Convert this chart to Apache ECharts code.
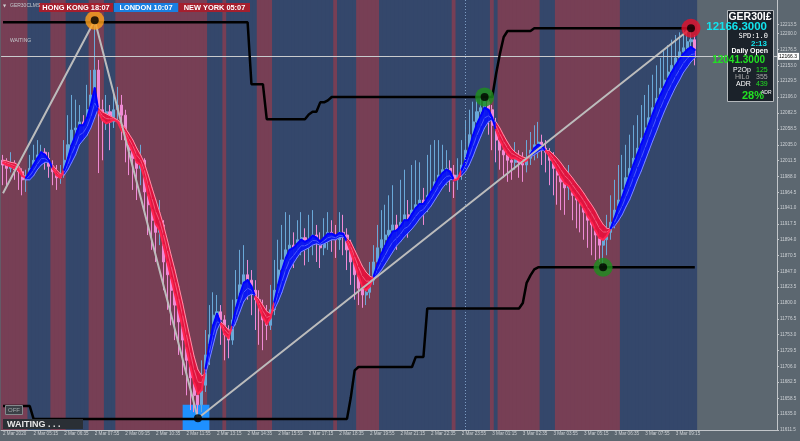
<!DOCTYPE html>
<html>
<head>
<meta charset="utf-8">
<title>GER30 M5</title>
<script src="https://cdn.jsdelivr.net/npm/echarts@6/dist/echarts.min.js"></script>
<style>
  html, body { margin: 0; padding: 0; background: #5c6770; }
  #chart { width: 800px; height: 441px; }
</style>
</head>
<body>
<div id="chart"></div>
<script>
// bars are 10 minutes from 2 Mar 03:55, last categories are the empty chart shift
var barCount = 203;
var tickLabels = ['2 Mar 2020', '2 Mar 05:15', '2 Mar 06:35', '2 Mar 07:55', '2 Mar 09:15', '2 Mar 10:35',
  '2 Mar 11:55', '2 Mar 13:15', '2 Mar 14:35', '2 Mar 15:55', '2 Mar 17:15', '2 Mar 18:35', '2 Mar 19:55',
  '2 Mar 21:15', '2 Mar 22:35', '2 Mar 23:55', '3 Mar 01:15', '3 Mar 02:35', '3 Mar 03:55', '3 Mar 05:15',
  '3 Mar 06:35', '3 Mar 07:55', '3 Mar 09:15'];
var priceTicks = [12213.5, 12200.0, 12176.5, 12153.0, 12129.5, 12106.0, 12082.5, 12058.5, 12035.0, 12011.5,
  11988.0, 11964.5, 11941.0, 11917.5, 11894.0, 11870.5, 11847.0, 11823.5, 11800.0, 11776.5, 11753.0,
  11729.5, 11706.0, 11682.5, 11658.5, 11635.0, 11611.5];
var lastPrice = 12166.3;

// [open, close, low, high]
var candles = [
  [12012,12005,11975,12020],[12005,12000,11971,12015],[12000,12008,11994,12024],[12008,11998,11983,12012],
  [11998,11995,11968,12005],[11995,11983,11960,12000],[11983,11989,11965,11998],[11989,12000,11983,12020],
  [12000,12012,11994,12035],[12012,12020,12005,12042],[12020,12024,12009,12035],[12024,12015,11998,12030],
  [12015,12003,11986,12024],[12003,11995,11975,12012],[11995,11986,11968,12005],[11986,11992,11977,12005],
  [11992,12012,11986,12042],[12012,12035,12005,12079],[12035,12057,12027,12109],[12057,12060,12042,12102],
  [12060,12069,12050,12094],[12069,12063,12042,12079],[12063,12087,12057,12124],[12087,12109,12079,12146],
  [12109,12146,12087,12220],[12146,12087,11993,12161],[12087,12075,12012,12102],[12075,12084,12057,12109],
  [12084,12069,12027,12094],[12069,12087,12060,12116],[12087,12094,12072,12121],[12094,12079,12042,12109],
  [12079,12042,12009,12087],[12042,12027,11990,12054],[12027,12015,11968,12039],[12015,12000,11953,12027],
  [12000,12012,11975,12035],[12012,11965,11931,12015],[11965,11946,11901,11983],[11946,11923,11879,11960],
  [11923,11905,11861,11938],[11905,11916,11886,11953],[11916,11861,11819,11923],[11861,11842,11790,11879],
  [11842,11819,11767,11856],[11819,11797,11745,11834],[11797,11772,11723,11812],[11772,11745,11693,11787],
  [11745,11715,11663,11760],[11715,11689,11641,11730],[11689,11663,11638,11701],[11663,11649,11629,11678],
  [11649,11678,11638,11715],[11678,11723,11668,11760],[11723,11753,11708,11797],[11753,11782,11738,11816],
  [11782,11787,11760,11812],[11787,11775,11738,11797],[11775,11753,11715,11782],[11753,11745,11718,11767],
  [11745,11775,11738,11805],[11775,11805,11767,11849],[11805,11827,11797,11879],[11827,11842,11819,11886],
  [11842,11834,11805,11864],[11834,11819,11782,11849],[11819,11805,11760,11834],[11805,11790,11738,11819],
  [11790,11775,11730,11805],[11775,11767,11745,11797],[11767,11790,11760,11827],[11790,11819,11782,11864],
  [11819,11849,11812,11894],[11849,11864,11842,11916],[11864,11879,11856,11935],[11879,11886,11861,11931],
  [11886,11879,11852,11905],[11879,11894,11867,11923],[11894,11897,11871,11935],[11897,11886,11856,11911],
  [11886,11894,11861,11931],[11894,11901,11871,11938],[11901,11891,11861,11916],[11891,11882,11852,11905],
  [11882,11897,11871,11926],[11897,11905,11879,11935],[11905,11900,11876,11923],[11900,11894,11867,11916],
  [11894,11905,11879,11935],[11905,11901,11871,11931],[11901,11879,11849,11911],[11879,11861,11827,11894],
  [11861,11842,11805,11871],[11842,11822,11797,11852],[11822,11812,11793,11837],[11812,11816,11797,11842],
  [11816,11834,11807,11861],[11834,11861,11827,11886],[11861,11882,11852,11916],[11882,11894,11871,11938],
  [11894,11901,11879,11946],[11901,11908,11886,11960],[11908,11916,11894,11975],[11916,11905,11879,11931],
  [11905,11920,11894,11983],[11920,11931,11905,11998],[11931,11923,11897,11953],[11923,11938,11911,12005],
  [11938,11946,11920,12012],[11946,11953,11926,12009],[11953,11946,11916,11971],[11946,11960,11935,12020],
  [11960,11968,11946,12035],[11968,11980,11956,12042],[11980,11990,11965,12042],[11990,11998,11971,12035],
  [11998,12000,11975,12027],[12000,11990,11965,12012],[11990,11983,11956,12005],[11983,11990,11968,12015],
  [11990,12005,11983,12042],[12005,12027,11998,12072],[12027,12050,12020,12087],[12050,12069,12042,12099],
  [12069,12084,12057,12102],[12084,12090,12064,12105],[12090,12099,12072,12106],[12099,12087,12050,12102],
  [12087,12064,12027,12094],[12064,12042,12009,12075],[12042,12027,11998,12054],[12027,12020,11986,12042],
  [12020,12012,11980,12035],[12012,12009,11983,12027],[12009,12015,11998,12039],[12015,12009,11986,12027],
  [12009,12005,11980,12024],[12005,12015,11994,12042],[12015,12027,12005,12054],[12027,12035,12012,12064],
  [12035,12039,12015,12069],[12039,12030,12005,12050],[12030,12024,11994,12042],[12024,12012,11975,12030],
  [12012,12000,11960,12024],[12000,11990,11946,12012],[11990,11980,11938,12000],[11980,11971,11931,11994],
  [11971,11975,11953,12005],[11975,11960,11923,11986],[11960,11953,11911,11971],[11953,11946,11905,11968],
  [11946,11935,11894,11960],[11935,11923,11882,11953],[11923,11916,11871,11941],[11916,11901,11864,11931],
  [11901,11886,11861,11916],[11886,11894,11854,11916],[11894,11905,11871,11931],[11905,11920,11894,11960],
  [11920,11938,11911,11983],[11938,11953,11931,12005],[11953,11968,11946,12020],[11968,11986,11960,12035],
  [11986,12000,11975,12050],[12000,12015,11990,12064],[12015,12030,12005,12079],[12030,12045,12020,12094],
  [12045,12060,12035,12109],[12060,12075,12050,12124],[12075,12090,12064,12139],[12090,12104,12079,12153],
  [12104,12119,12094,12164],[12119,12131,12109,12176],[12131,12143,12119,12183],[12143,12153,12128,12191],
  [12153,12164,12139,12198],[12164,12173,12146,12202],[12173,12179,12153,12205],[12179,12188,12161,12205],
  [12188,12191,12164,12208],[12191,12165,12153,12198]
];

// ribbon: fast and slow averages
var fastMA = [
  12008,12005,12003,12000,11998,11989,11986,11995,12005,12015,
  12024,12020,12012,12000,11990,11986,11998,12015,12035,12049,
  12064,12064,12075,12094,12119,12084,12072,12067,12069,12072,
  12069,12057,12049,12036,12024,12009,12005,11986,11960,11938,
  11917,11908,11886,11861,11837,11813,11788,11763,11733,11706,
  11681,11665,11671,11703,11738,11767,11784,11769,11754,11748,
  11767,11793,11813,11830,11834,11825,11809,11794,11779,11769,
  11778,11802,11827,11849,11867,11879,11882,11888,11894,11891,
  11894,11900,11897,11891,11897,11903,11903,11900,11904,11903,
  11891,11876,11858,11840,11825,11819,11825,11840,11858,11873,
  11885,11897,11906,11908,11914,11923,11923,11932,11941,11947,
  11947,11956,11965,11975,11986,11993,11998,11995,11982,11984,
  11998,12012,12030,12049,12066,12078,12090,12087,12075,12057,
  12042,12030,12021,12015,12015,12012,12009,12012,12021,12030,
  12035,12033,12026,12018,12008,11998,11987,11978,11974,11965,
  11957,11949,11940,11929,11920,11908,11897,11894,11900,11911,
  11926,11943,11957,11974,11990,12006,12021,12036,12051,12066,
  12081,12096,12109,12121,12133,12143,12153,12162,12170,12176,
  12180,12176
];
var slowMA = [
  12012,12011,12009,12008,12005,11995,11983,11983,11989,11998,
  12005,12009,12009,12005,11998,11992,11990,11998,12009,12020,
  12035,12042,12049,12060,12075,12090,12084,12081,12078,12075,
  12072,12066,12060,12051,12042,12030,12020,12008,11990,11971,
  11953,11935,11916,11894,11871,11849,11825,11800,11773,11747,
  11721,11701,11692,11695,11715,11738,11760,11772,11767,11760,
  11760,11772,11787,11802,11810,11813,11812,11806,11797,11788,
  11784,11790,11802,11816,11833,11849,11859,11868,11876,11879,
  11882,11886,11888,11886,11888,11891,11894,11894,11897,11898,
  11897,11891,11879,11867,11855,11846,11840,11837,11842,11849,
  11858,11867,11876,11885,11891,11898,11904,11910,11917,11925,
  11931,11937,11944,11953,11962,11971,11978,11983,11984,11986,
  11989,11995,12005,12018,12033,12047,12060,12069,12072,12069,
  12060,12049,12039,12030,12024,12020,12017,12015,12017,12020,
  12024,12027,12027,12026,12021,12015,12008,12000,11993,11986,
  11978,11971,11963,11954,11946,11937,11926,11917,11911,11910,
  11914,11922,11931,11943,11954,11968,11983,11996,12011,12026,
  12041,12055,12070,12084,12097,12109,12121,12131,12142,12150,
  12158,12164
];

// channel lines as [price, number of bars]
var upperRuns = [[12217,65],[12125,4],[12073,11],[12080,1],[12084,2],[12098,2],[12101,1],[12106,43],
  [12140,1],[12170,1],[12195,1],[12204,7],[12208,43]];
var lowerRuns = [[11647,8],[11628,83],[11660,1],[11700,1],[11705,15],[11720,3],[11792,25],
  [11800,1],[11830,1],[11841,1],[11850,1],[11853,42]];

// background stripes: 1 = red session, 0 = blue session, [flag, bars]
var stripeRuns = [[1,7],[0,6],[1,4],[0,6],[1,4],[0,3],[1,24],[0,4],[1,1],[0,8],[1,4],[0,16],[1,1],
  [0,5],[1,6],[0,19],[1,1],[0,9],[1,1],[0,1],[1,11],[0,4],[1,17],[0,20]];

// zigzag pivots
var zigzagIdx = [0, 24, 51, 180];
var zigzagVal = [11963, 12220, 11629, 12208];
var rings = [
  { idx: 24, price: 12220, color: '#ffa11a' },
  { idx: 126, price: 12106, color: '#1d8f1d' },
  { idx: 157, price: 11853, color: '#1d8f1d' },
  { idx: 180, price: 12208, color: '#e8102a' }
];
var lowDot = { idx: 51, price: 11629 };
var lowBox = { from: 47, to: 54, bottom: 11611.5, top: 11649 };
var daySeparator = 121;

function pad(n) { return n < 10 ? '0' + n : '' + n; }
function expand(runs) {
  var out = [];
  runs.forEach(function (r) { for (var k = 0; k < r[1]; k++) out.push(r[0]); });
  return out;
}

var categories = [];
for (var k = 0; k < barCount; k++) {
  var m = 235 + 10 * k;
  categories.push((2 + Math.floor(m / 1440)) + ' Mar ' + pad(Math.floor((m % 1440) / 60)) + ':' + pad(m % 60));
}

var upper = expand(upperRuns);
var lower = expand(lowerRuns);
var stripeData = expand(stripeRuns).map(function (f, i) { return [i, f]; });
var ribbonData = fastMA.map(function (v, i) { return [i, v, slowMA[i]]; });

function renderStripe(params, api) {
  var c = api.coord([api.value(0), 11611.5]);
  var w = api.size([1, 0])[0];
  var cs = params.coordSys;
  return {
    type: 'rect',
    shape: { x: c[0] - w / 2 - 0.4, y: cs.y, width: w + 0.8, height: cs.height },
    style: { fill: api.value(1) ? '#773f55' : '#34476b' }
  };
}

function renderRibbon(params, api) {
  var i = api.value(0);
  if (i >= fastMA.length - 1) return null;
  var f0 = api.coord([i, fastMA[i]]), f1 = api.coord([i + 1, fastMA[i + 1]]);
  var s0 = api.coord([i, slowMA[i]]), s1 = api.coord([i + 1, slowMA[i + 1]]);
  var m0 = [f0[0], (f0[1] + s0[1]) / 2], m1 = [f1[0], (f1[1] + s1[1]) / 2];
  var up = fastMA[i] >= slowMA[i];
  var fill = up ? '#0c18f2' : '#e0143f';
  var thin = up ? '#7c8cff' : '#ff8fa8';
  return {
    type: 'group',
    children: [
      { type: 'polygon', shape: { points: [f0, f1, s1, s0] }, style: { fill: fill, stroke: fill, lineWidth: 0.6 } },
      { type: 'line', shape: { x1: m0[0], y1: m0[1], x2: m1[0], y2: m1[1] },
        style: { stroke: thin, lineWidth: 0.7, opacity: 0.8 } },
      { type: 'line', shape: { x1: s0[0], y1: s0[1], x2: s1[0], y2: s1[1] },
        style: { stroke: thin, lineWidth: 1, lineCap: 'round' } },
      { type: 'line', shape: { x1: f0[0], y1: f0[1], x2: f1[0], y2: f1[1] },
        style: { stroke: up ? '#0000ff' : '#ff2450', lineWidth: 2, lineCap: 'round' } }
    ]
  };
}

function txt(x, y, s, font, fill, align) {
  return {
    type: 'text', x: x, y: y, z: 100, silent: true,
    style: { text: s, font: font, fill: fill, align: align || 'left', verticalAlign: 'middle',
      textAlign: align || 'left', textVerticalAlign: 'middle' }
  };
}
function box(x, y, w, h, fill, stroke) {
  return { type: 'rect', z: 99, silent: true, shape: { x: x, y: y, width: w, height: h },
    style: { fill: fill, stroke: stroke || null, lineWidth: stroke ? 1 : 0 } };
}

var chart = echarts.init(document.getElementById('chart'));
chart.setOption({
  backgroundColor: '#5c6770',
  animation: false,
  grid: { left: 0, right: 23, top: 0, bottom: 11 },
  xAxis: {
    type: 'category',
    data: categories,
    boundaryGap: true,
    axisLine: { lineStyle: { color: '#c2c6ca', width: 1 } },
    axisTick: { interval: 7, alignWithLabel: true, length: 2, lineStyle: { color: '#c2c6ca' } },
    axisLabel: {
      interval: 7, margin: 1, align: 'left', fontSize: 4.6, color: '#cdd1d5',
      fontFamily: 'Liberation Sans',
      formatter: function (v, i) { return tickLabels[i / 8] || ''; }
    },
    splitLine: { show: false }
  },
  yAxis: {
    type: 'value',
    position: 'right',
    min: 11611.5,
    max: 12250,
    axisLine: { show: true, lineStyle: { color: '#c2c6ca', width: 1 } },
    axisTick: { show: true, length: 2, customValues: priceTicks, lineStyle: { color: '#c2c6ca' } },
    axisLabel: {
      customValues: priceTicks, margin: 3, fontSize: 4.6, color: '#cdd1d5', fontFamily: 'Liberation Sans',
      formatter: function (v) { return v.toFixed(1); }
    },
    splitLine: { show: false }
  },
  graphic: [
    txt(3, 6, '\u25BC', '4px "DejaVu Sans"', '#d0d0d0'),
    txt(10, 6, 'GER30CLMS', '5px "Liberation Sans"', '#c4c8cc'),
    box(39, 3, 74, 9, '#a51f2e'),
    txt(76, 7.6, 'HONG KONG 18:07', 'bold 7.4px "Liberation Sans"', '#ffffff', 'center'),
    box(114, 3, 64, 9, '#1a7fe0'),
    txt(146, 7.6, 'LONDON 10:07', 'bold 7.4px "Liberation Sans"', '#ffffff', 'center'),
    box(179, 3, 71, 9, '#a51f2e'),
    txt(214.5, 7.6, 'NEW YORK 05:07', 'bold 7.4px "Liberation Sans"', '#ffffff', 'center'),
    txt(10, 41, 'WAITING', '5px "Liberation Sans"', '#c4c8cc'),

    box(727.5, 10.5, 46, 91, '#1b222a', '#b4b8bc'),
    txt(750, 17, 'GER30I\u00A3', 'bold 10.5px "Liberation Sans"', '#ffffff', 'center'),
    txt(767, 27, '12166.3000', 'bold 11.5px "Liberation Sans"', '#12e4ee', 'right'),
    txt(768, 36, 'SPD:1.0', '7px "DejaVu Sans Mono"', '#ffffff', 'right'),
    txt(767, 44, '2:13', 'bold 8px "Liberation Sans"', '#12e4ee', 'right'),
    txt(768, 51.5, 'Daily Open', 'bold 7px "Liberation Sans"', '#ffffff', 'right'),
    txt(765, 60.5, '12041.3000', 'bold 10px "Liberation Sans"', '#22e022', 'right'),
    txt(733, 70, 'P2Op', '7px "Liberation Sans"', '#ffffff'),
    txt(756, 70, '125', '7px "Liberation Sans"', '#22e022'),
    txt(735, 77.5, 'HiLo', '7px "Liberation Sans"', '#a8a8a8'),
    txt(756, 77.5, '355', '7px "Liberation Sans"', '#a8a8a8'),
    txt(736, 84.5, 'ADR', '7px "Liberation Sans"', '#ffffff'),
    txt(756, 84.5, '439', '7px "Liberation Sans"', '#22e022'),
    txt(742, 95.5, '28%', 'bold 11px "Liberation Sans"', '#22e022'),
    txt(761, 92.5, 'ADR', '5px "Liberation Sans"', '#ffffff'),

    box(5.5, 405.5, 17, 9, '#3b4046', '#84888c'),
    txt(14, 410, 'OFF', '6px "Liberation Sans"', '#a4a8ac', 'center'),
    box(3, 419, 80, 10, '#2a2f35'),
    txt(7, 424.5, 'WAITING . . .', 'bold 9px "Liberation Sans"', '#e6e6e6')
  ],
  series: [
    {
      name: 'session',
      type: 'custom',
      renderItem: renderStripe,
      data: stripeData,
      encode: { x: 0 },
      silent: true,
      z: 0
    },
    {
      name: 'GER30',
      type: 'candlestick',
      data: candles,
      barWidth: 2.6,
      z: 2,
      itemStyle: {
        color: '#6aa8d8', color0: '#f08ad6',
        borderColor: '#6aa8d8', borderColor0: '#f08ad6', borderWidth: 1
      },
      markArea: {
        silent: true,
        itemStyle: { color: '#1e90ff', opacity: 1 },
        data: [[{ xAxis: lowBox.from, yAxis: lowBox.bottom }, { xAxis: lowBox.to, yAxis: lowBox.top }]]
      },
      markLine: {
        silent: true,
        symbol: 'none',
        data: [
          { yAxis: lastPrice, lineStyle: { color: '#c9cbcd', width: 1, type: 'solid' },
            label: { show: true, position: 'end', distance: 1, formatter: lastPrice.toFixed(1),
              backgroundColor: '#ffffff', color: '#000000', fontSize: 5, padding: [1, 2, 1, 1],
              fontFamily: 'Liberation Sans' } },
          { xAxis: daySeparator, lineStyle: { color: '#7d9cc4', width: 1, type: [1, 2] },
            label: { show: false } }
        ]
      }
    },
    {
      name: 'ribbon',
      type: 'custom',
      renderItem: renderRibbon,
      data: ribbonData,
      encode: { x: 0, y: [1, 2] },
      silent: true,
      z: 3
    },
    {
      name: 'zigzag',
      type: 'line',
      data: zigzagIdx.map(function (x, k) { return [x, zigzagVal[k]]; }),
      symbol: 'none',
      lineStyle: { color: '#bcbcbc', width: 2 },
      silent: true,
      z: 4
    },
    {
      name: 'upper',
      type: 'line',
      data: upper,
      symbol: 'none',
      lineStyle: { color: '#000000', width: 2.5 },
      silent: true,
      z: 5
    },
    {
      name: 'lower',
      type: 'line',
      data: lower,
      symbol: 'none',
      lineStyle: { color: '#000000', width: 2.5 },
      silent: true,
      z: 5
    },
    {
      name: 'rings',
      type: 'scatter',
      data: rings.map(function (r) {
        return { value: [r.idx, r.price], itemStyle: { color: r.color } };
      }),
      symbolSize: 19,
      silent: true,
      z: 6
    },
    {
      name: 'centres',
      type: 'scatter',
      data: rings.map(function (r) { return [r.idx, r.price]; }).concat([[lowDot.idx, lowDot.price]]),
      symbolSize: 8,
      itemStyle: { color: '#000000' },
      silent: true,
      z: 7
    }
  ]
});
</script>
</body>
</html>
